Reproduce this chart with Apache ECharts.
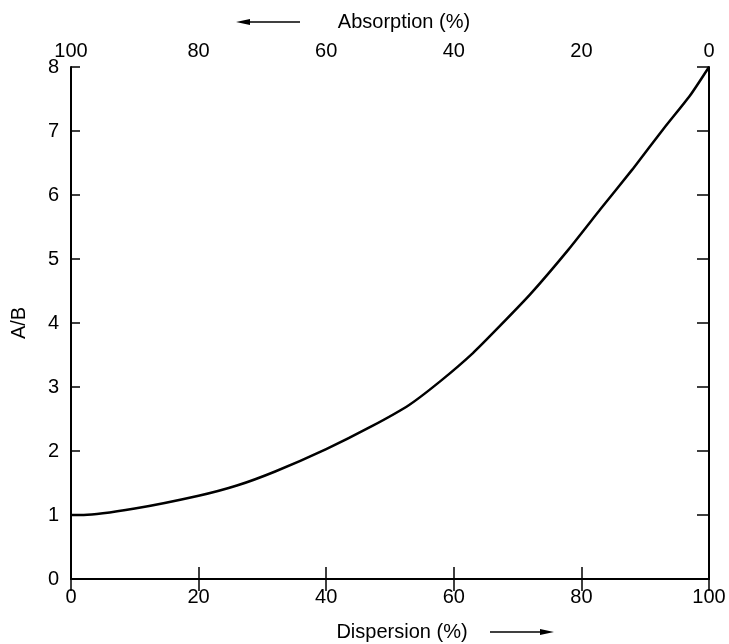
<!DOCTYPE html>
<html>
<head>
<meta charset="utf-8">
<script src="https://cdn.jsdelivr.net/npm/echarts@6/dist/echarts.min.js"></script>
<style>
  html, body { margin: 0; padding: 0; background: #fff; }
  #chart { width: 729px; height: 644px; }
</style>
</head>
<body>
<div id="chart"></div>
<script>
// curve: dispersion (%) vs A/B
const dispersion = [0, 2, 10, 20, 26, 32, 40, 47, 53, 58, 63, 67, 72, 78, 83, 88, 93, 97, 100];
const ratioAB = [1.0, 1.0, 1.1, 1.3, 1.46, 1.68, 2.03, 2.38, 2.72, 3.1, 3.53, 3.93, 4.45, 5.15, 5.78, 6.4, 7.05, 7.55, 8.0];

const xTicks = [0, 20, 40, 60, 80, 100];
const yTicks = [0, 1, 2, 3, 4, 5, 6, 7, 8];

const font = '"Liberation Sans Narrow", "Liberation Sans", sans-serif';

function initChart() {
    const chart = echarts.init(document.getElementById('chart'));

    const axisLine = { show: true, lineStyle: { color: '#000', width: 2 } };
    const axisTick = { show: true, inside: true, length: 12, lineStyle: { color: '#000', width: 1.5 } };
    const label = { color: '#000', fontSize: 20, fontFamily: font };

    const option = {
        animation: false,
        grid: { left: 71, right: 20, top: 67, bottom: 65 },
        xAxis: [{
            type: 'value',
            position: 'bottom',
            min: xTicks[0],
            max: xTicks[xTicks.length - 1],
            interval: 20,
            axisLine: axisLine,
            axisTick: axisTick,
            axisLabel: Object.assign({ margin: 8 }, label),
            splitLine: { show: false }
        }, {
            type: 'value',
            position: 'top',
            inverse: true,
            min: 0,
            max: 100,
            interval: 20,
            axisLine: axisLine,
            axisTick: axisTick,
            axisLabel: Object.assign({ margin: 6 }, label),
            splitLine: { show: false }
        }],
        yAxis: [{
            type: 'value',
            position: 'left',
            min: yTicks[0],
            max: yTicks[yTicks.length - 1],
            interval: 1,
            name: 'A/B',
            nameLocation: 'middle',
            nameGap: 42,
            nameRotate: 90,
            nameTextStyle: { color: '#000', fontSize: 20, fontFamily: font },
            axisLine: axisLine,
            axisTick: Object.assign({}, axisTick, { length: 9 }),
            axisLabel: Object.assign({ margin: 12 }, label),
            splitLine: { show: false }
        }, {
            type: 'value',
            position: 'right',
            min: 0,
            max: 8,
            interval: 1,
            axisLine: axisLine,
            axisTick: axisTick,
            axisLabel: { show: false },
            splitLine: { show: false }
        }],
        graphic: [
            { type: 'text', style: { text: 'Absorption (%)', x: 404, y: 22, fill: '#000', font: '20px ' + font, textAlign: 'center', textVerticalAlign: 'middle' } },
            { type: 'line', shape: { x1: 245, y1: 22, x2: 300, y2: 22 }, style: { stroke: '#000', lineWidth: 1.5 } },
            { type: 'polygon', shape: { points: [[236, 22], [250, 19], [250, 25]] }, style: { fill: '#000' } },
            { type: 'text', style: { text: 'Dispersion (%)', x: 402, y: 632, fill: '#000', font: '20px ' + font, textAlign: 'center', textVerticalAlign: 'middle' } },
            { type: 'line', shape: { x1: 490, y1: 632, x2: 545, y2: 632 }, style: { stroke: '#000', lineWidth: 1.5 } },
            { type: 'polygon', shape: { points: [[554, 632], [540, 629], [540, 635]] }, style: { fill: '#000' } }
        ],
        series: [{
            type: 'line',
            xAxisIndex: 0,
            yAxisIndex: 0,
            data: dispersion.map((d, i) => [d, ratioAB[i]]),
            smooth: 0.2,
            symbol: 'none',
            lineStyle: { color: '#000', width: 2.5 }
        }]
    };

    chart.setOption(option);
}

window.onload = function() {
    initChart();
};
</script>
</body>
</html>
